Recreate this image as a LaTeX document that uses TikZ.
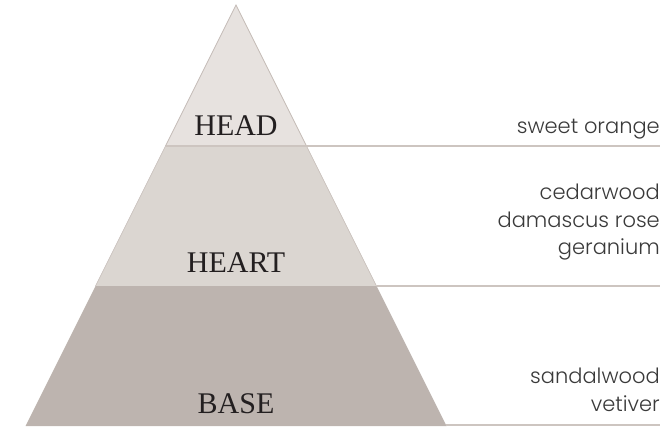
\documentclass[tikz,border=0pt]{standalone}
\usepackage{fontspec}
\setmainfont{Liberation Serif}
\newfontfamily\notefont{Poppins Light}
\definecolor{headfill}{HTML}{E7E2DF}
\definecolor{heartfill}{HTML}{DBD6D1}
\definecolor{basefill}{HTML}{BDB4AF}
\definecolor{edgecol}{HTML}{C4BBB6}
\definecolor{rulecol}{HTML}{CDC5C0}
\definecolor{serifink}{HTML}{231F20}
\definecolor{sansink}{HTML}{3A3A3A}
\begin{document}
\begin{tikzpicture}[x=1pt,y=-1pt,
  level/.style={font=\fontsize{30}{30}\selectfont, text=serifink, anchor=base, inner sep=0pt},
  note/.style={font=\notefont\fontsize{21}{21}\selectfont, text=sansink, anchor=base east, inner sep=0pt},
  rule/.style={draw=rulecol, line width=1.3pt}]
\useasboundingbox (0,0) rectangle (667,426);
\coordinate (apex) at (236,5);
\coordinate (hl) at (165.5,146);
\coordinate (hr) at (306.5,146);
\coordinate (tl) at (95.5,286);
\coordinate (tr) at (376.5,286);
\coordinate (bl) at (25.5,426);
\coordinate (br) at (446,425);
\coordinate (bb) at (446.5,426);
\coordinate (e1) at (660,146);
\coordinate (e2) at (660,286);
\coordinate (e3) at (660,425);
\fill[headfill] (apex) -- (hr) -- (hl) -- cycle;
\fill[heartfill] (hl) -- (hr) -- (tr) -- (tl) -- cycle;
\fill[basefill] (tl) -- (tr) -- (bb) -- (bl) -- cycle;
\draw[edgecol, line width=0.8pt] (hl) -- (apex) -- (hr);
\draw[edgecol, line width=0.6pt] (tl) -- (hl) (hr) -- (tr);
\draw[rule] (hl) -- (e1);
\draw[rule] (tr) -- (e2);
\draw[rule] (br) -- (e3);
\node[level] (head) at (236,135) {HEAD};
\node[level] (heart) at (236,272) {HEART};
\node[level] (base) at (236,413) {BASE};
\node[note] (n1) at (660,133) {sweet orange};
\node[note] (n2) at (660,199) {cedarwood};
\node[note] (n3) at (660,227) {damascus rose};
\node[note] (n4) at (660,254) {geranium};
\node[note] (n5) at (660,383) {sandalwood};
\node[note] (n6) at (660,411) {vetiver};
\end{tikzpicture}
\end{document}
